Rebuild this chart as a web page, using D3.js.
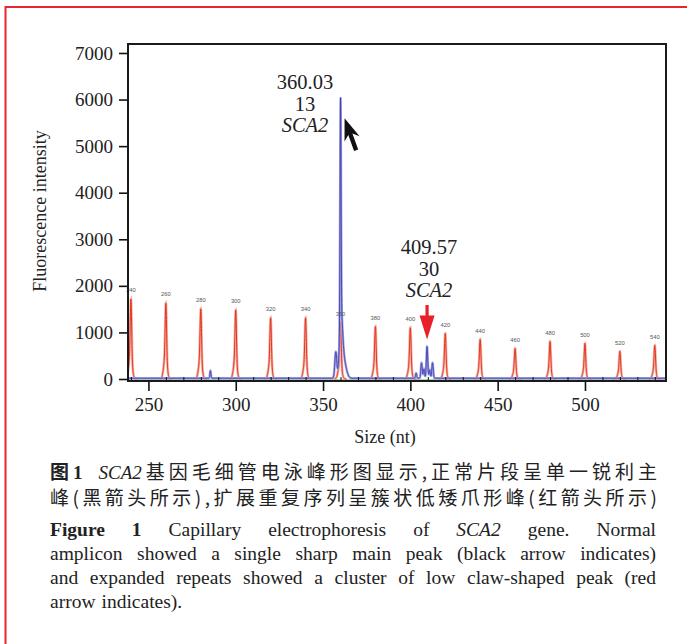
<!DOCTYPE html>
<html><head><meta charset="utf-8">
<script src="https://cdn.jsdelivr.net/npm/d3@7"></script>
<style>body{margin:0;background:#fff}</style>
</head><body>
<svg id="c" width="687" height="644"></svg>
<script>
// ---------- DATA ----------
const stdSizes   = [240,260,280,300,320,340,360,380,400,420,440,460,480,500,520,540];
const stdHeights = [1740,1650,1525,1500,1330,1330,1225,1140,1115,990,860,665,815,775,600,730];
const stdLabels  = ["240","260","280","300","320","340","360","380","400","420","440","460","480","500","520","540"];
// sample (blue) peaks: [size, height, width]
const bluePeaks = [
  [285.5, 160, 0.3],
  [357.3, 560, 0.55],
  [360.03, 4740, 0.28],
  [360.3, 1100, 0.85],
  [361.6, 420, 1.5],
  [403.3, 110, 0.35],
  [406.4, 330, 0.4],
  [407.8, 200, 0.35],
  [409.57, 680, 0.4],
  [411.1, 180, 0.35],
  [412.7, 330, 0.4]
];
const xTicks = [250,300,350,400,450,500];
const xMinor = [240,260,270,280,290,310,320,330,340,360,370,380,390,410,420,430,440,460,470,480,490,510,520,530,540];
const yTicks = [0,1000,2000,3000,4000,5000,6000,7000];
const ann1 = ["360.03","13","SCA2"];
const ann2 = ["409.57","30","SCA2"];
const xTitle = "Size (nt)";
const yTitle = "Fluorescence intensity";

// ---------- SETUP ----------
const svg = d3.select("#c");
const L=128, R=666, T=44, B=381;
const x = d3.scaleLinear().domain([238.3,546.4]).range([L,R]);
const y = d3.scaleLinear().domain([-43,7193]).range([B,T]);
const serif = "'Liberation Serif','Times New Roman',serif";

// page frame
svg.append("path").attr("d","M5.5,700 V7 H700").attr("fill","none")
  .attr("stroke","#e8262d").attr("stroke-width",2);

const g = svg.append("g");
const clip = svg.append("defs").append("clipPath").attr("id","pc");
clip.append("rect").attr("x",L).attr("y",T).attr("width",R-L).attr("height",B-T);
const plot = g.append("g").attr("clip-path","url(#pc)");

const gauss = (s,c,w)=>Math.exp(-0.5*((s-c)/w)*((s-c)/w));
const line = d3.line().x(d=>x(d[0])).y(d=>y(d[1]));

// green baseline
plot.append("path").datum(d3.range(238,547,1).map(s=>[s,-20]))
  .attr("d",line).attr("fill","none").attr("stroke","#5cb85c").attr("stroke-width",1);

// red size-standard peaks
stdSizes.forEach((c,i)=>{
  const h = stdHeights[i];
  const pts = d3.range(c-3.5,c+3.51,0.05).map(s=>[s, h*(0.72*gauss(s,c,0.4)+0.28*gauss(s,c-0.3,0.95))]);
  plot.append("path").datum(pts).attr("d",line).attr("fill","none")
    .attr("stroke","#f2a08e").attr("stroke-width",2.6).attr("stroke-opacity",0.8);
  plot.append("path").datum(pts).attr("d",line).attr("fill","none")
    .attr("stroke","#e2321e").attr("stroke-width",1);
  g.append("text").attr("x",x(c)).attr("y",y(h)-6).attr("text-anchor","middle")
    .attr("font-family","'Liberation Sans',Arial,sans-serif").attr("font-size",5.8)
    .attr("fill","#555").text(stdLabels[i]);
});

// blue sample trace
const bluePts = d3.range(238.3,546.4,0.05).map(s=>{
  let v = 15;
  bluePeaks.forEach(p=>{ v += p[1]*gauss(s,p[0],p[2]); });
  return [s,v];
});
plot.append("path").datum(bluePts).attr("d",line).attr("fill","none")
  .attr("stroke","#a5a5e2").attr("stroke-width",2.4);
plot.append("path").datum(bluePts).attr("d",line).attr("fill","none")
  .attr("stroke","#3c3cae").attr("stroke-width",0.9);

// axes
const xa = g.append("g").attr("transform",`translate(0,${B})`)
  .call(d3.axisBottom(x).tickValues(xTicks).tickSize(10).tickPadding(7).tickFormat(d3.format("d")));
const xm = g.append("g").attr("transform",`translate(0,${B})`)
  .call(d3.axisTop(x).tickValues(xMinor).tickSize(4).tickFormat(""));
const ya = g.append("g").attr("transform",`translate(${L},0)`)
  .call(d3.axisLeft(y).tickValues(yTicks).tickSize(9).tickPadding(6).tickFormat(d3.format("d")));
[xa,xm,ya].forEach(a=>{
  a.select(".domain").remove();
  a.selectAll("line").attr("stroke","#111").attr("stroke-width",1.6);
  a.selectAll("text").attr("font-family",serif).attr("font-size",19).attr("fill","#222");
});
xm.selectAll("line").attr("stroke-width",1);
g.append("rect").attr("x",L).attr("y",T).attr("width",R-L).attr("height",B-T)
  .attr("fill","none").attr("stroke","#1a1a1a").attr("stroke-width",2);

// titles
g.append("text").attr("x",385).attr("y",443).attr("text-anchor","middle")
  .attr("font-family",serif).attr("font-size",18).attr("fill","#222").text(xTitle);
g.append("text").attr("transform","translate(46,211) rotate(-90)").attr("text-anchor","middle")
  .attr("font-family",serif).attr("font-size",18).attr("fill","#222").text(yTitle);

// annotations
function ann(lines,cx,yb){
  lines.forEach((t,i)=>{
    g.append("text").attr("x",cx).attr("y",yb+i*21.5).attr("text-anchor","middle")
      .attr("font-family",serif).attr("font-size",20.5).attr("fill","#222")
      .attr("font-style",i===2?"italic":"normal").text(t);
  });
}
ann(ann1, 305, 89);
ann(ann2, 429, 254);

// black arrow (cursor style) pointing at main peak
{
  const tx = x(360.03)+4, ty = y(5600);
  const ux=0.34, uy=0.94, px=0.94, py=-0.34;
  const P=(a,b)=>[tx+a*ux+b*px, ty+a*uy+b*py];
  const pts=[P(0,0),P(22,-8),P(17,-2.2),P(34,-2.2),P(34,2.2),P(17,2.2),P(22,8)];
  g.append("polygon").attr("points",pts.map(p=>p.join(",")).join(" ")).attr("fill","#111");
}
// red arrow pointing down to cluster
{
  const cx = x(409.57), tip = y(850), top = y(1590);
  g.append("path").attr("d",`M${cx-1.6},${top} H${cx+1.6} V${tip-24} H${cx+7.5} L${cx},${tip} L${cx-7.5},${tip-24} H${cx-1.6} Z`)
    .attr("fill","#e8202a");
}

// ---------- CAPTION ----------
const cap = svg.append("g");
const meas = cap.append("text").attr("visibility","hidden");
function widthOf(tok,fam,fs){
  meas.attr("font-family",fam).attr("font-size",fs)
    .attr("font-weight",tok.b?700:400).attr("font-style",tok.i?"italic":"normal").text(tok.t);
  return meas.node().getComputedTextLength();
}
function layout(tokens,x0,x1,yb,fam,fs,justify,normalGap){
  const ws = tokens.map(t=>widthOf(t,fam(t),fs));
  const extra = tokens.reduce((a,t,i)=>a+(i>0?(t.pre||0):0),0);
  const total = d3.sum(ws);
  const n = tokens.length-1;
  const gap = justify ? (x1-x0-total-extra)/n : normalGap;
  let cx = x0;
  tokens.forEach((t,i)=>{
    if(i>0) cx += gap + (t.pre||0);
    cap.append("text").attr("x",cx).attr("y",yb).attr("font-family",fam(t)).attr("font-size",fs)
      .attr("font-weight",t.b?700:400).attr("font-style",t.i?"italic":"normal")
      .attr("fill","#222").text(t.t);
    cx += ws[i];
  });
}
const cjk = "'Noto Sans CJK SC','Noto Sans CJK JP',sans-serif";
const famZh = t=> t.latin ? serif : cjk;
const famEn = t=> serif;
function zhTokens(str){ return Array.from(str).map(c=>({t:c})); }
const zh1 = [{t:"图",b:1},{t:"1",b:1,latin:1},{t:"SCA2",i:1,latin:1,pre:12}].concat(zhTokens("基因毛细管电泳峰形图显示,正常片段呈单一锐利主"));
const zh2 = zhTokens("峰(黑箭头所示),扩展重复序列呈簇状低矮爪形峰(红箭头所示)");
layout(zh1,50,657,479,famZh,19,true);
layout(zh2,50,657,505,famZh,19,true);
function enTokens(str){ return str.split(" ").map(w=>({t:w})); }
const en1 = [{t:"Figure",b:1},{t:"1",b:1}].concat(enTokens("Capillary electrophoresis of"),[{t:"SCA2",i:1}],enTokens("gene. Normal"));
const en2 = enTokens("amplicon showed a single sharp main peak (black arrow indicates)");
const en3 = enTokens("and expanded repeats showed a cluster of low claw-shaped peak (red");
const en4 = enTokens("arrow indicates).");
layout(en1,50,656,536,famEn,19.5,true);
layout(en2,50,656,560,famEn,19.5,true);
layout(en3,50,656,584,famEn,19.5,true);
layout(en4,50,656,608,famEn,19.5,false,6);
</script>
</body></html>
